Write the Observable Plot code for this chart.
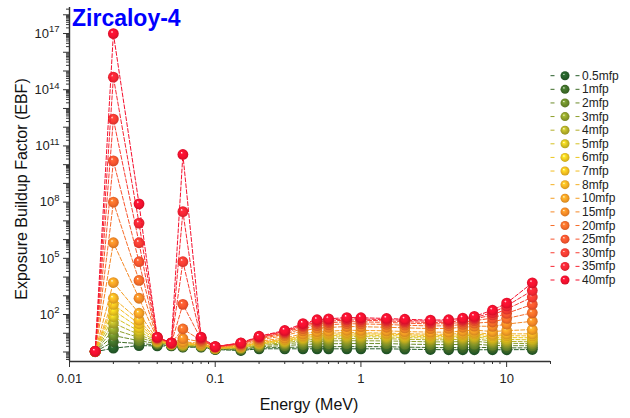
<!DOCTYPE html>
<html><head><meta charset="utf-8">
<script src="https://cdn.jsdelivr.net/npm/d3@7"></script>
<script src="https://cdn.jsdelivr.net/npm/@observablehq/plot@0.6"></script>
<style>
body{margin:0;background:#fff;}
#chart{position:relative;width:630px;height:418px;}
</style></head><body><div id="chart"></div>
<script>
// ---- data ----
const energies = [0.015, 0.02, 0.03, 0.04, 0.05, 0.06, 0.08, 0.1, 0.15, 0.2, 0.3, 0.4, 0.5, 0.6, 0.8, 1, 1.5, 2, 3, 4, 5, 6, 8, 10, 15];
const seriesLabels = ["0.5mfp","1mfp","2mfp","3mfp","4mfp","5mfp","6mfp","7mfp","8mfp","10mfp","15mfp","20mfp","25mfp","30mfp","35mfp","40mfp"];
const seriesColors = ["#255d29","#3e6c28","#6c8b2a","#8e9f2b","#b3ae28","#d4c021","#ecc61e","#f2bd20","#f4b023","#f59e24","#f58826","#f66d2a","#f8552e","#f83c32","#f72634","#f5102e"];
const ebf05 = [1.03,1.6,2.2,2.1,2.1,1.8,1.8,1.35,1.2,1.48,1.48,1.48,1.48,1.48,1.48,1.48,1.48,1.41,1.35,1.32,1.32,1.32,1.32,1.32,1.35];
const ebf1  = [1.04,3.5,2.8,2.4,2.2,1.9,1.9,1.38,1.29,1.66,1.74,1.86,1.91,1.91,1.95,1.95,1.91,1.82,1.74,1.70,1.74,1.78,1.70,1.66,1.66];
const ebf2  = [1.04,7.6,4.0,2.8,2.3,2.0,2.0,1.45,1.41,1.91,2.19,2.51,2.69,2.75,2.82,2.82,2.82,2.63,2.51,2.45,2.57,2.63,2.24,2.19,2.14];
const ebf3  = [1.05,16,5.9,3.1,2.5,2.1,2.1,1.48,1.55,2.19,2.69,3.31,3.72,3.89,3.98,3.98,3.89,3.72,3.47,3.47,3.63,3.80,3.02,2.95,2.75];
const ebf4  = [1.05,35,8.5,3.4,2.5,2.3,2.2,1.51,1.66,2.45,3.09,4.17,4.79,5.01,5.25,5.25,5.13,4.79,4.47,4.47,4.79,5.13,3.80,3.72,3.47];
const ebf5  = [1.05,76,13,3.6,2.6,2.5,2.3,1.55,1.74,2.69,3.55,5.01,6.03,6.17,6.61,6.61,6.31,5.89,5.50,5.50,6.03,6.46,4.90,4.68,4.47];
const ebf6  = [1.06,166,20,3.9,2.6,2.6,2.4,1.58,1.82,2.95,3.98,5.75,7.08,7.41,8.13,7.94,7.59,7.08,6.61,6.61,7.24,7.94,5.89,5.89,5.75];
const ebf7  = [1.06,347,32,4.1,2.7,2.8,2.5,1.62,1.91,3.09,4.37,6.61,8.13,8.71,9.33,9.33,8.91,8.32,7.59,7.76,8.51,9.33,7.24,7.41,7.24];
const ebf8  = [1.06,741,50,4.3,2.8,3.0,2.6,1.66,1.95,3.31,4.79,7.41,9.55,10.0,11.0,10.7,10.2,9.55,8.91,8.91,10.0,11.2,8.71,9.33,9.33];
const ebf10 = [1.07,5100,117,4.6,2.8,3.5,2.9,1.70,2.09,3.72,5.62,9.33,12.3,12.9,14.5,14.1,13.5,12.3,11.5,11.5,13.2,14.8,12.3,13.8,15.8];
const ebf15 = [1.07,6.8e5,741,5.0,2.9,5.2,3.5,1.78,2.34,4.47,7.41,13.5,18.6,20.4,22.9,22.4,20.9,19.5,17.8,18.2,20.9,24.0,23.4,30.9,43.7];
const ebf20 = [1.08,1.0e8,6600,5.4,3.0,17,4.1,1.82,2.57,5.13,8.91,17.8,25.7,28.2,32.4,31.6,29.5,26.9,24.5,25.1,29.5,34.7,39.8,61.7,123];
const ebf25 = [1.08,1.6e10,6.6e4,5.6,3.0,350,4.7,1.86,2.75,5.62,10.5,22.4,33.1,36.3,41.7,40.7,38.0,34.7,31.6,32.4,38.9,46.8,64.6,115,347];
const ebf30 = [1.09,2.7e12,6.8e5,5.9,3.0,6.6e4,5.2,1.91,2.88,6.17,11.7,25.7,39.8,43.7,51.3,50.1,45.7,41.7,37.2,38.9,47.9,57.5,95.5,195,851];
const ebf35 = [1.09,4.7e14,7.6e6,6.0,3.1,3.1e7,5.8,1.93,2.95,6.46,12.9,29.5,45.7,51.3,58.9,57.5,53.7,49.0,43.7,45.7,55.0,67.6,126,288,1905];
const ebf40 = [1.1,9.8e16,8.1e7,6.2,3.1,3.5e10,6.2,1.95,3.09,6.92,14.1,33.1,52.5,58.9,69.2,67.6,61.7,56.2,50.1,52.5,64.6,79.4,170,407,4898];
const xMajorTicks = [0.01, 0.1, 1, 10];
const yLabelExponents = [2, 5, 8, 11, 14, 17];

const seriesValues = [ebf05, ebf1, ebf2, ebf3, ebf4, ebf5, ebf6, ebf7, ebf8, ebf10, ebf15, ebf20, ebf25, ebf30, ebf35, ebf40];

// ---- build table ----
const series = seriesValues.map((vals, si) => vals.map((v, i) => ({si, E: energies[i], v})));

const xDomain = [0.01, 20];
const yDomain = [0.311, 2.45e18];
const xMinor = [];
for (let e = -2; e <= 1; e++) for (let k = 2; k <= 9; k++) { const v = +(k * Math.pow(10, e)).toPrecision(6); if (v <= xDomain[1]) xMinor.push(v); }
const yMajor = d3.range(0, 19).map(e => Math.pow(10, e));
const yMinor = [];
for (let e = -1; e <= 18; e++) for (let k = 2; k <= 9; k++) { const v = k * Math.pow(10, e); if (v >= yDomain[0] && v <= yDomain[1]) yMinor.push(v); }

const marks = [
  Plot.axisX(xMinor, {tickSize: 3, tickFormat: () => "", stroke: "#333", label: null}),
  Plot.axisX(xMajorTicks, {tickSize: 6, tickPadding: 6, tickFormat: d => String(d), stroke: "#333", fill: "#222", fontSize: 13, label: null}),
  Plot.axisY(yMinor, {tickSize: 3, tickFormat: () => "", stroke: "#333", label: null}),
  Plot.axisY(yMajor, {tickSize: 6, tickPadding: 4, stroke: "#333", fill: "#222", fontSize: 13, label: null,
    tickFormat: d => { const e = Math.round(Math.log10(d)); return yLabelExponents.includes(e) ? "10^" + e : ""; }}),
  Plot.ruleX([xDomain[0]], {stroke: "#333", strokeWidth: 1.4}),
  Plot.ruleY([yDomain[0]], {stroke: "#333", strokeWidth: 1.4})
];
series.forEach((rows, si) => {
  marks.push(Plot.line(rows, {x: "E", y: "v", stroke: seriesColors[si], strokeWidth: 1, strokeDasharray: "4,2"}));
  marks.push(Plot.dot(rows, {x: "E", y: "v", r: 5.4, fill: seriesColors[si]}));
});

const svg = Plot.plot({
  width: 630, height: 418,
  marginLeft: 69, marginRight: 80, marginTop: 7, marginBottom: 57,
  x: {type: "log", domain: xDomain},
  y: {type: "log", domain: yDomain},
  style: {fontFamily: "Arial, 'Liberation Sans', sans-serif", fontSize: "13px", background: "#fff", color: "#222"},
  marks
});
document.getElementById("chart").appendChild(svg);

// ---- sphere gradients ----
const s = d3.select(svg);
const defs = s.insert("defs", ":first-child");
seriesColors.forEach((c, i) => {
  const g = defs.append("radialGradient").attr("id", "sph" + i)
    .attr("cx", "50%").attr("cy", "50%").attr("r", "55%").attr("fx", "36%").attr("fy", "32%");
  g.append("stop").attr("offset", "0%").attr("stop-color", "#ffffff").attr("stop-opacity", 1);
  g.append("stop").attr("offset", "22%").attr("stop-color", d3.color(c).brighter(0.5).formatHex());
  g.append("stop").attr("offset", "60%").attr("stop-color", c);
  g.append("stop").attr("offset", "100%").attr("stop-color", d3.color(c).darker(0.55).formatHex());
});
s.selectAll("g[aria-label='dot']").each(function(_, i) {
  d3.select(this).attr("fill", `url(#sph${i})`);
  d3.select(this).selectAll("circle").attr("fill", `url(#sph${i})`);
});

// ---- superscript y tick labels ----
s.selectAll("g[aria-label='y-axis tick label'] text").each(function() {
  const t = this.textContent;
  if (t.includes("^")) {
    const [base, exp] = t.split("^");
    this.textContent = "";
    d3.select(this).append("tspan").text(base);
    d3.select(this).append("tspan").attr("dy", "-0.55em").attr("font-size", "9.5px").text(exp);
  }
});

// ---- titles ----
s.append("text").attr("x", 72).attr("y", 26).attr("text-anchor", "start").attr("fill", "#0000ff")
  .attr("font-size", 23).attr("font-weight", "bold").text("Zircaloy-4");
s.append("text").attr("transform", "translate(27,189) rotate(-90)").attr("text-anchor", "middle")
  .attr("font-size", 16).attr("fill", "#111").text("Exposure Buildup Factor (EBF)");
s.append("text").attr("x", 309).attr("y", 410).attr("text-anchor", "middle")
  .attr("font-size", 16).attr("fill", "#111").text("Energy (MeV)");

// ---- legend ----
const lg = s.append("g").attr("text-anchor", "start");
seriesLabels.forEach((lab, i) => {
  const y = 75.7 + i * 13.62;
  lg.append("line").attr("x1", 550.5).attr("x2", 554.5).attr("y1", y).attr("y2", y).attr("stroke", seriesColors[i]).attr("stroke-width", 1);
  lg.append("line").attr("x1", 575.5).attr("x2", 579.5).attr("y1", y).attr("y2", y).attr("stroke", seriesColors[i]).attr("stroke-width", 1);
  lg.append("circle").attr("cx", 565).attr("cy", y).attr("r", 4.5).attr("fill", `url(#sph${i})`);
  lg.append("text").attr("x", 582).attr("y", y + 4).attr("text-anchor", "start").attr("font-size", 12).attr("fill", "#222").text(lab);
});
</script>
</body></html>
